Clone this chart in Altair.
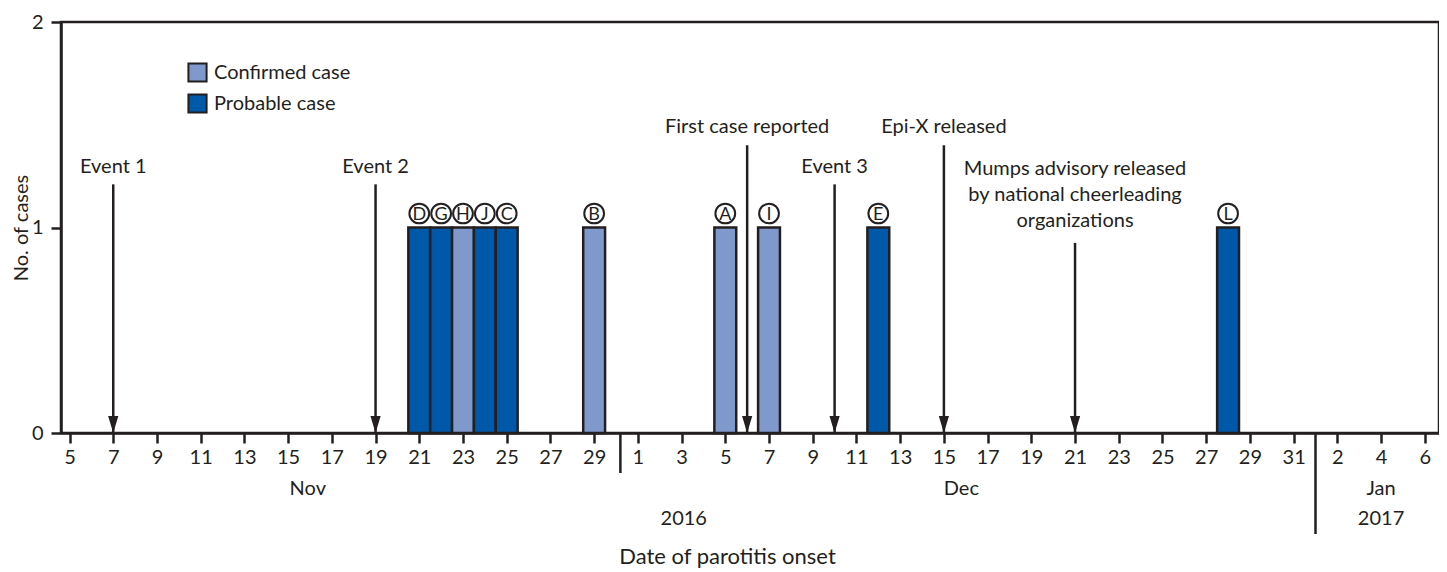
import altair as alt
import pandas as pd

START = "2016-11-05"
INK = "#231f20"
FONT = "Lato"

# ---- data ----
case_letters = ["D", "G", "H", "J", "C", "B", "A", "I", "E", "L"]
case_dates = ["2016-11-21", "2016-11-22", "2016-11-23", "2016-11-24", "2016-11-25",
              "2016-11-29", "2016-12-05", "2016-12-07", "2016-12-12", "2016-12-28"]
case_status = ["Probable case", "Probable case", "Confirmed case", "Probable case", "Probable case",
               "Confirmed case", "Confirmed case", "Confirmed case", "Probable case", "Probable case"]
case_counts = [1, 1, 1, 1, 1, 1, 1, 1, 1, 1]

arrow_dates = ["2016-11-07", "2016-11-19", "2016-12-06", "2016-12-10", "2016-12-15", "2016-12-21"]
arrow_top = [1.21, 1.21, 1.40, 1.21, 1.40, 0.925]

note_text = ["Event 1", "Event 2", "First case reported", "Event 3", "Epi-X released",
             "Mumps advisory released", "by national cheerleading", "organizations"]
note_dates = ["2016-11-07", "2016-11-19", "2016-12-06", "2016-12-10", "2016-12-15",
              "2016-12-21", "2016-12-21", "2016-12-21"]
note_y = [1.292, 1.292, 1.487, 1.292, 1.487, 1.287, 1.158, 1.032]

tick_labels = ["5", "7", "9", "11", "13", "15", "17", "19", "21", "23", "25", "27", "29",
               "1", "3", "5", "7", "9", "11", "13", "15", "17", "19", "21", "23", "25", "27", "29", "31",
               "2", "4", "6"]
tick_values = list(range(0, 64, 2))
y_ticks = [0, 1, 2]

month_labels = ["Nov", "Dec", "Jan"]
month_pos = [10.9, 40.8, 60.0]
year_labels = ["2016", "2017"]
year_pos = [28.1, 60.0]
sep_pos = [25.2, 57.0]

def day_index(d):
    return (pd.Timestamp(d) - pd.Timestamp(START)).days

cases = pd.DataFrame({
    "day": [day_index(d) for d in case_dates],
    "status": case_status,
    "count": case_counts,
    "letter": case_letters,
})
arrows = pd.DataFrame({"day": [day_index(d) for d in arrow_dates], "top": arrow_top, "base": 0})
notes = pd.DataFrame({"day": [day_index(d) for d in note_dates], "y": note_y, "text": note_text})
months = pd.DataFrame({"day": month_pos, "text": month_labels})
years = pd.DataFrame({"day": year_pos, "text": year_labels})
sep1 = pd.DataFrame({"day": [sep_pos[0]]})
sep2 = pd.DataFrame({"day": [sep_pos[1]]})

W, H = 1378, 411
XT = "Date of parotitis onset"
YT = "No. of cases"
FS = 20

label_js = "[" + ",".join("'%s'" % t for t in tick_labels) + "]"
xscale = alt.Scale(domain=[-0.39, 62.65], nice=False, zero=False)
xaxis = alt.Axis(values=tick_values, labelExpr=label_js + "[round(datum.value/2)]",
                 grid=False, ticks=True, tickSize=10, labelPadding=4,
                 titleX=666, titleY=123, titleAlign="center",
                 titleBaseline="middle", titleFontWeight="normal", titleFontSize=22,
                 labelFlush=False, labelOverlap=False)
yscale = alt.Scale(domain=[0, 2], nice=False, zero=True)

def X(field="day"):
    return alt.X(field, type="quantitative", scale=xscale, axis=xaxis, title=XT)

def Y(field):
    return alt.Y(field, type="quantitative", scale=yscale, title=YT)

color = alt.Color("status:N",
                  scale=alt.Scale(domain=["Confirmed case", "Probable case"],
                                  range=["#7f99cc", "#0058a8"]),
                  legend=alt.Legend(title=None, orient="none", legendX=126, legendY=40,
                                    symbolType="square", symbolSize=330,
                                    symbolStrokeColor=INK, symbolStrokeWidth=2,
                                    symbolOpacity=1, labelFontSize=FS, labelFont=FONT,
                                    labelColor=INK, rowPadding=4, padding=0, labelOffset=6))

bars = alt.Chart(cases).transform_calculate(
    x0="datum.day - 0.5", x1="datum.day + 0.5", zero="0"
).mark_rect(stroke=INK, strokeWidth=2.5).encode(
    x=X("x0"), x2="x1",
    y=alt.Y("zero", type="quantitative", scale=yscale, title=YT,
            axis=alt.Axis(values=y_ticks, format=".0f", grid=False, ticks=True,
                          tickSize=10, labelPadding=8, labelFlush=False, labelOverlap=False,
                          labelSeparation=0, labelBound=False,
                          titleFontWeight="normal", titleFontSize=20,
                          titleX=-40, titleY=H / 2, titleBaseline="middle", titleAngle=270)),
    y2="count", color=color
)

circles = alt.Chart(cases).mark_point(shape="circle", size=390, filled=True, fill="white",
                                      stroke=INK, strokeWidth=2, opacity=1, yOffset=-14).encode(
    x=X(), y=Y("count")
)
letters = alt.Chart(cases).mark_text(font=FONT, fontSize=18, color=INK, baseline="middle",
                                     yOffset=-13).encode(
    x=X(), y=Y("count"), text="letter"
)

arrow_lines = alt.Chart(arrows).mark_rule(color=INK, strokeWidth=2.5).encode(
    x=X(), y=Y("top"), y2="base"
)
arrow_heads = alt.Chart(arrows).mark_point(shape="M-0.3,-1L0.3,-1L0,0Z", size=1156,
                                           filled=True, color=INK, opacity=1).encode(
    x=X(), y=Y("base")
)
note_marks = alt.Chart(notes).mark_text(font=FONT, fontSize=FS, color=INK,
                                        baseline="middle", align="center").encode(
    x=X(), y=Y("y"), text="text"
)

sep_a = alt.Chart(sep1).mark_rule(color=INK, strokeWidth=2.5).encode(
    x=X(), y=alt.value(H), y2=alt.value(H + 40)
)
sep_b = alt.Chart(sep2).mark_rule(color=INK, strokeWidth=2.5).encode(
    x=X(), y=alt.value(H), y2=alt.value(H + 101)
)
month_marks = alt.Chart(months).mark_text(font=FONT, fontSize=FS, color=INK,
                                          baseline="middle").encode(
    x=X(), y=alt.value(H + 56), text="text"
)
year_marks = alt.Chart(years).mark_text(font=FONT, fontSize=FS, color=INK,
                                        baseline="middle").encode(
    x=X(), y=alt.value(H + 86), text="text"
)

chart = alt.layer(
    bars, circles, letters, arrow_lines, arrow_heads, note_marks,
    sep_a, sep_b, month_marks, year_marks
).properties(
    width=W, height=H,
    autosize=alt.AutoSizeParams(type="none"),
    padding={"left": 53, "top": 14, "right": 0, "bottom": 137},
).configure(font=FONT).configure_view(
    stroke=INK, strokeWidth=2.5
).configure_axis(
    domainColor=INK, domainWidth=2.5, tickColor=INK, tickWidth=2.5,
    labelFont=FONT, labelFontSize=FS, labelColor=INK,
    titleFont=FONT, titleColor=INK
).configure_axisY(labelOverlap=False, ticks=True)

chart.save("out.html", embed_options={"renderer": "svg", "actions": False})
